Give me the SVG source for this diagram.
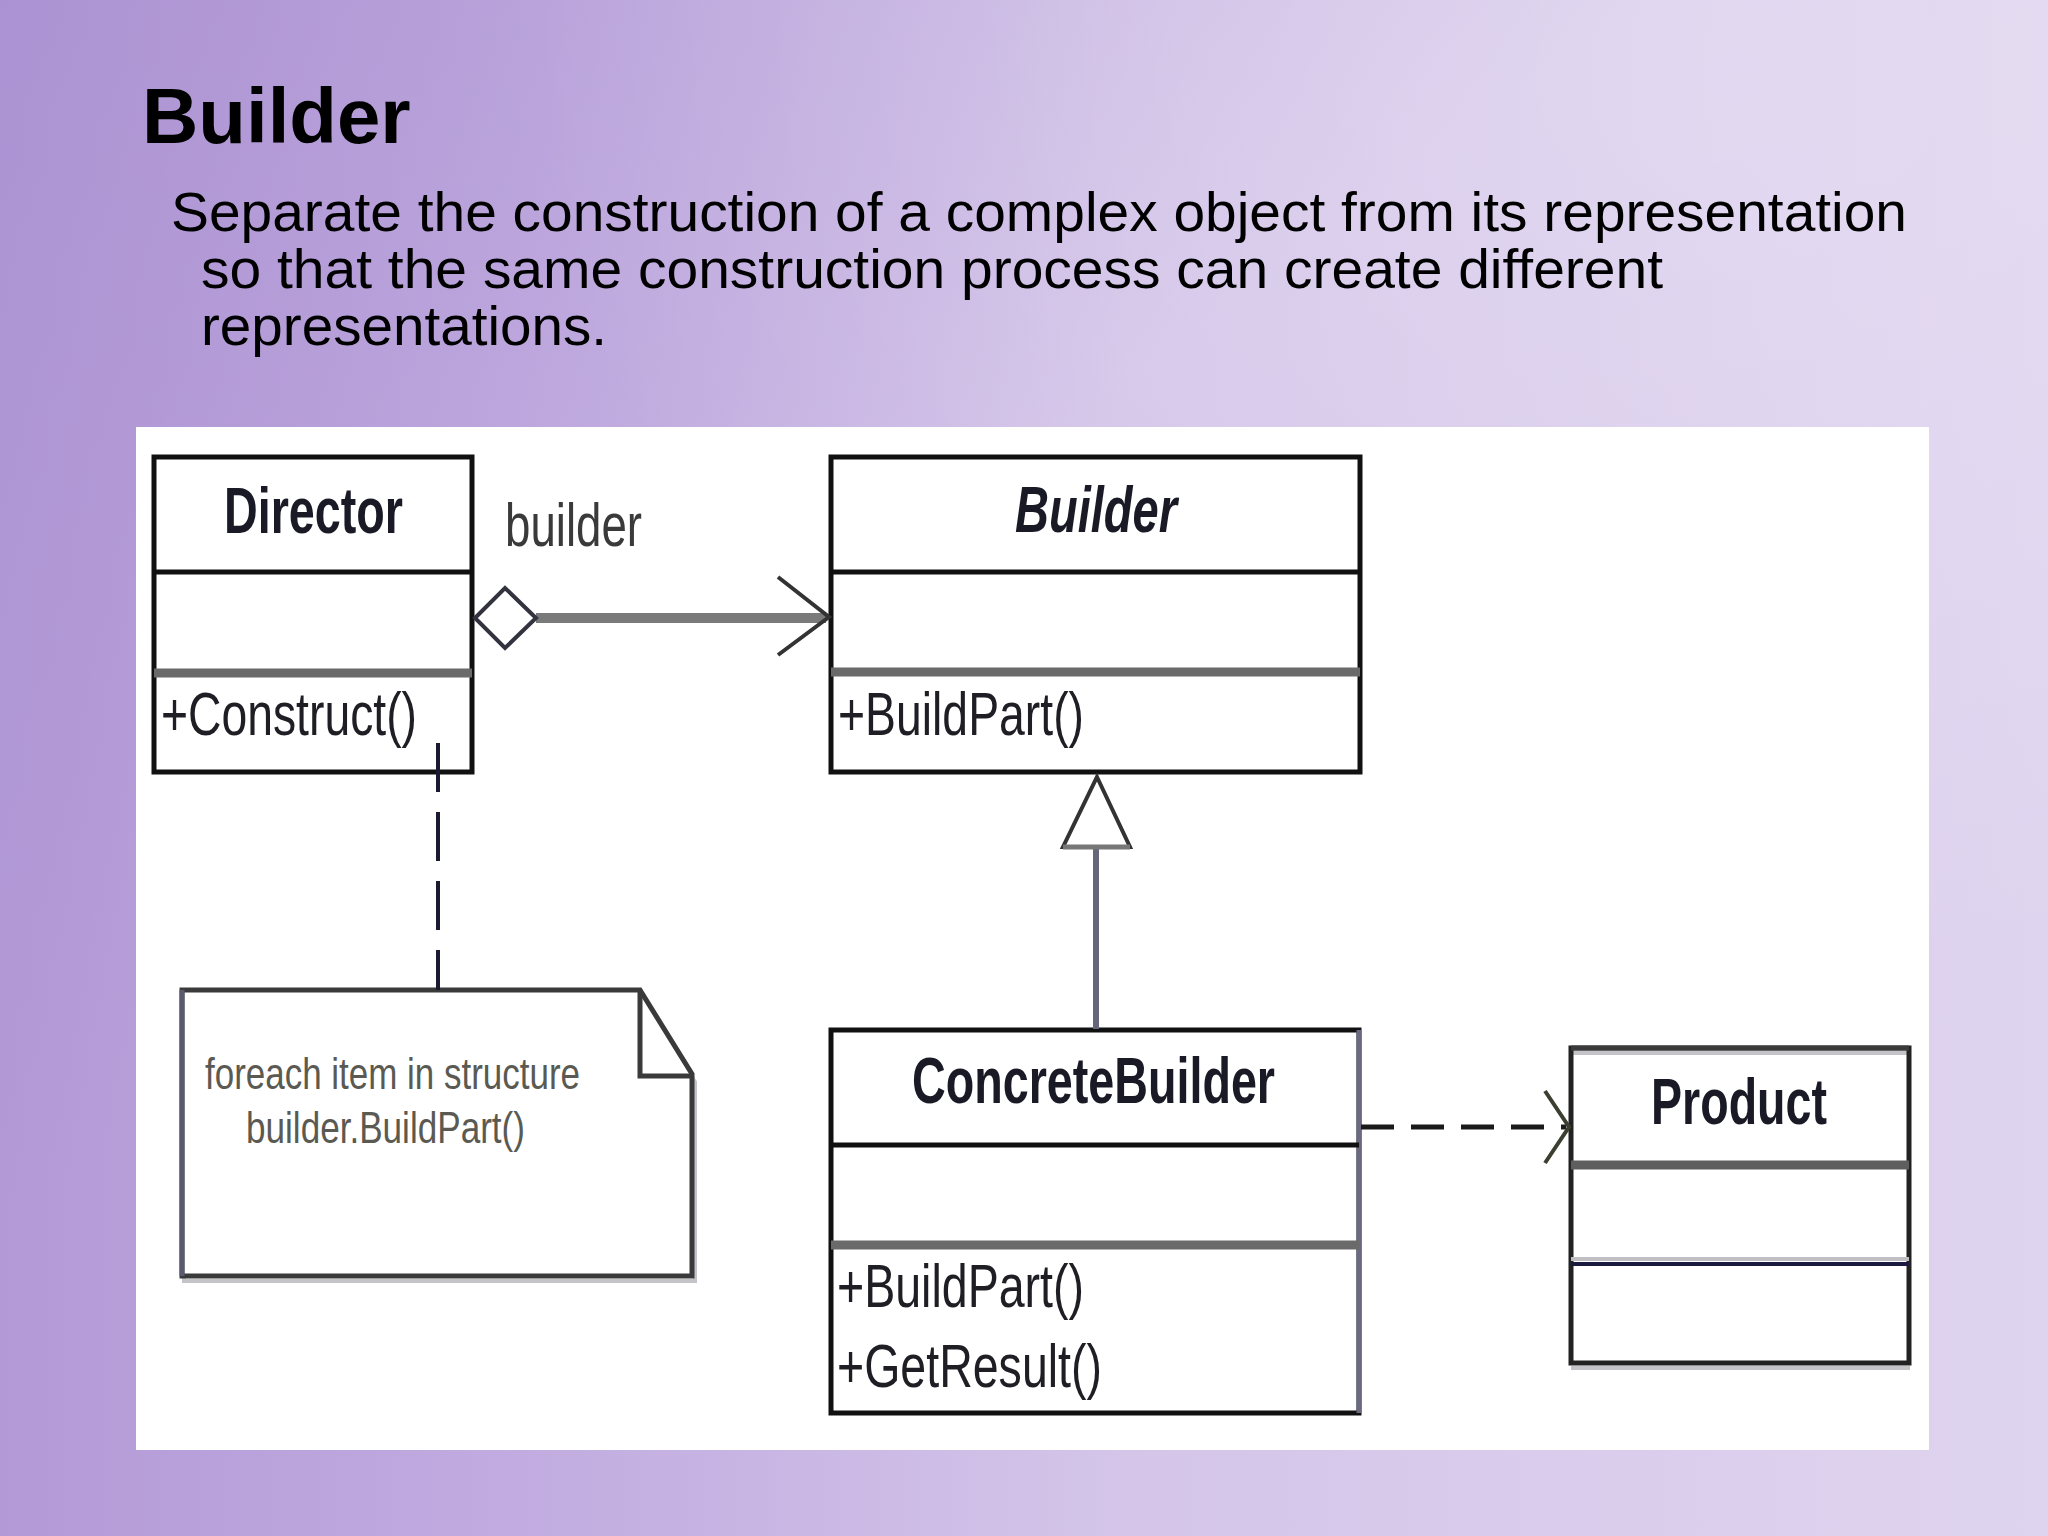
<svg xmlns="http://www.w3.org/2000/svg" width="2048" height="1536" viewBox="0 0 2048 1536">
  <defs>
    <linearGradient id="bg" x1="0" y1="0" x2="1" y2="0">
      <stop offset="0" stop-color="#b39ad7"/>
      <stop offset="0.25" stop-color="#c1abe0"/>
      <stop offset="0.55" stop-color="#d4c5e9"/>
      <stop offset="1" stop-color="#dfd4ef"/>
    </linearGradient>
    <radialGradient id="hl" cx="0.85" cy="0.05" r="0.6">
      <stop offset="0" stop-color="#ffffff" stop-opacity="0.2"/>
      <stop offset="1" stop-color="#ffffff" stop-opacity="0"/>
    </radialGradient>
    <linearGradient id="dk" x1="0" y1="0" x2="1" y2="1">
      <stop offset="0" stop-color="#9d84c8" stop-opacity="0.35"/>
      <stop offset="0.4" stop-color="#9d84c8" stop-opacity="0"/>
    </linearGradient>
    <style>
      .box { fill: #ffffff; stroke: #111111; stroke-width: 5; }
      .div1 { stroke: #111111; stroke-width: 5; }
      .div2 { stroke: #6a6a6a; stroke-width: 9; }
      .name { font-family: "Liberation Sans", Arial, sans-serif; font-weight: bold; font-size: 64px; fill: #1a1a26; }
      .meth { font-family: "Liberation Sans", Arial, sans-serif; font-size: 62px; fill: #1e1e24; }
      .note { font-family: "Liberation Sans", Arial, sans-serif; font-size: 44px; fill: #5a5a52; }
      .head { font-family: "Liberation Sans", Arial, sans-serif; fill: #000000; }
    </style>
  </defs>

  <!-- background -->
  <rect x="0" y="0" width="2048" height="1536" fill="url(#bg)"/>
  <rect x="0" y="0" width="2048" height="1536" fill="url(#dk)"/>
  <rect x="0" y="0" width="2048" height="1536" fill="url(#hl)"/>

  <!-- heading -->
  <text class="head" x="142" y="143" font-size="78" font-weight="bold">Builder</text>
  <text class="head" x="171" y="231" font-size="56" textLength="1736" lengthAdjust="spacingAndGlyphs">Separate the construction of a complex object from its representation</text>
  <text class="head" x="201" y="288" font-size="56" textLength="1462" lengthAdjust="spacingAndGlyphs">so that the same construction process can create different</text>
  <text class="head" x="201" y="345" font-size="56" textLength="406" lengthAdjust="spacingAndGlyphs">representations.</text>

  <!-- white panel -->
  <rect x="136" y="427" width="1793" height="1023" fill="#ffffff"/>

  <g id="director">
    <rect class="box" x="154" y="457" width="318" height="315"/>
    <line class="div1" x1="154" y1="572" x2="472" y2="572"/>
    <line class="div2" x1="154" y1="673" x2="472" y2="673"/>
    <text class="name" x="224" y="533" textLength="179" lengthAdjust="spacingAndGlyphs">Director</text>
    <text class="meth" x="161" y="735" textLength="256" lengthAdjust="spacingAndGlyphs">+Construct()</text>
  </g>

  <g id="builder">
    <rect class="box" x="831" y="457" width="529" height="315"/>
    <line class="div1" x1="831" y1="572" x2="1360" y2="572"/>
    <line class="div2" x1="831" y1="672" x2="1360" y2="672"/>
    <text class="name" x="1015" y="532" font-style="italic" textLength="162" lengthAdjust="spacingAndGlyphs">Builder</text>
    <text class="meth" x="838" y="735" textLength="246" lengthAdjust="spacingAndGlyphs">+BuildPart()</text>
  </g>

  <g id="concretebuilder">
    <rect class="box" x="831" y="1030" width="528" height="383"/>
    <line x1="1359" y1="1030" x2="1359" y2="1413" stroke="#6a6a80" stroke-width="5"/>
    <line class="div1" x1="831" y1="1145" x2="1359" y2="1145"/>
    <line class="div2" x1="831" y1="1245" x2="1359" y2="1245"/>
    <text class="name" x="912" y="1103" textLength="363" lengthAdjust="spacingAndGlyphs">ConcreteBuilder</text>
    <text class="meth" x="837" y="1307" textLength="247" lengthAdjust="spacingAndGlyphs">+BuildPart()</text>
    <text class="meth" x="837" y="1387" textLength="265" lengthAdjust="spacingAndGlyphs">+GetResult()</text>
  </g>

  <g id="product">
    <line x1="1571" y1="1368" x2="1910" y2="1368" stroke="#c4c4c8" stroke-width="4"/>
    <line x1="1571" y1="1053" x2="1909" y2="1053" stroke="#c4c4c8" stroke-width="4"/>
    <rect x="1571" y="1048" width="338" height="315" fill="none" stroke="#222222" stroke-width="5"/>
    <line x1="1571" y1="1048" x2="1909" y2="1048" stroke="#3a3a3a" stroke-width="5"/>
    <line x1="1571" y1="1165" x2="1909" y2="1165" stroke="#5e5e5e" stroke-width="9"/>
    <line x1="1571" y1="1259" x2="1909" y2="1259" stroke="#c0c0c4" stroke-width="4"/>
    <line x1="1571" y1="1264" x2="1909" y2="1264" stroke="#1a1a40" stroke-width="4"/>
    <text class="name" x="1651" y="1124" textLength="176" lengthAdjust="spacingAndGlyphs">Product</text>
  </g>

  <g id="note">
    <path d="M 184 995 L 643 995 L 695 1082 L 695 1281 L 184 1281 Z" fill="none" stroke="#c4c4c8" stroke-width="4"/>
    <path d="M 182 990 L 640 990 L 692 1074 L 692 1276 L 182 1276 Z" fill="#ffffff" stroke="#3a3a3a" stroke-width="5" stroke-linejoin="miter"/>
    <line x1="182" y1="990" x2="182" y2="1276" stroke="#5a5a70" stroke-width="5"/>
    <polyline points="640,990 640,1076 692,1076" fill="none" stroke="#3a3a3a" stroke-width="5"/>
    <text class="note" x="205" y="1089" textLength="375" lengthAdjust="spacingAndGlyphs">foreach item in structure</text>
    <text class="note" x="246" y="1143" textLength="279" lengthAdjust="spacingAndGlyphs">builder.BuildPart()</text>
  </g>

  <g id="connectors">
    <!-- aggregation Director -> Builder -->
    <line x1="536" y1="618" x2="826" y2="618" stroke="#7a7a7a" stroke-width="10"/>
    <polygon points="475,618 505,588 536,618 505,648" fill="#ffffff" stroke="#333340" stroke-width="4"/>
    <polyline points="778,577 829,617 778,655" fill="none" stroke="#333333" stroke-width="4"/>
    <text class="meth" x="505" y="546" textLength="137" lengthAdjust="spacingAndGlyphs" style="fill:#3a3a3a">builder</text>

    <!-- note link -->
    <line x1="438" y1="743" x2="438" y2="990" stroke="#1a1a30" stroke-width="4" stroke-dasharray="49 20"/>

    <!-- generalization ConcreteBuilder -> Builder -->
    <line x1="1096" y1="847" x2="1096" y2="1029" stroke="#66667a" stroke-width="6"/>
    <polygon points="1097,777 1130,847 1063,847" fill="#ffffff" stroke="#333333" stroke-width="4" stroke-linejoin="miter"/>
    <line x1="1063" y1="847" x2="1130" y2="847" stroke="#777777" stroke-width="5"/>

    <!-- dependency ConcreteBuilder -> Product -->
    <line x1="1361" y1="1127" x2="1566" y2="1127" stroke="#1a1a1a" stroke-width="5" stroke-dasharray="33 17"/>
    <polyline points="1545,1091 1569,1127 1545,1163" fill="none" stroke="#3a3f30" stroke-width="4"/>
  </g>
</svg>
